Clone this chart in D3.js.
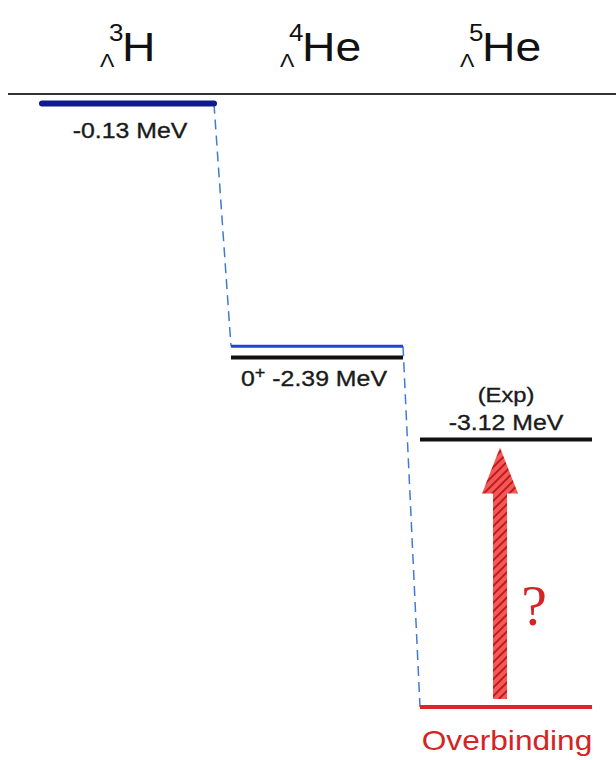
<!DOCTYPE html>
<html>
<head>
<meta charset="utf-8">
<script src="https://cdn.jsdelivr.net/npm/d3@7"></script>
<style>
  body { margin: 0; background: #fff; }
  svg { display: block; font-family: "Liberation Sans", Arial, sans-serif; }
</style>
</head>
<body>
<svg width="616" height="760"></svg>
<script>
// hypernuclei, Lambda separation energies (MeV)
const massNumbers = [3, 4, 5]
const elements = ["H", "He", "He"]
const calcEnergies = [-0.13, -2.29, -5.50]   // calculated levels (dashed connection)
const expEnergies = [null, -2.39, -3.12]     // experimental levels
const levelLabels = ["-0.13 MeV", "-2.39 MeV", "-3.12 MeV"]

const svg = d3.select("svg")

const y = d3.scaleLinear().domain([0, -5.5]).range([89, 707]),
      x = d3.scaleLinear().domain([0, 2]).range([42, 420]),
      titleX = d3.scaleLinear().domain([0, 2]).range([100, 460]),
      levelWidth = 172,
      stretch = 1.13,
      calcColors = ["#0f1a8c", "#2542d8", "#e02424"],
      calcWidths = [6, 3, 4],
      red = "#d42424"

// the original figure is a bit wider than tall, so text gets stretched horizontally
function label(parent, px, py, anchor) {
  return parent.append("g")
    .attr("transform", "translate(" + px + "," + py + ") scale(" + stretch + ",1)")
    .append("text")
      .attr("text-anchor", anchor || "start")
}

// hatch pattern for the arrow
const defs = svg.append("defs")
const pat = defs.append("pattern")
  .attr("id", "hatch")
  .attr("patternUnits", "userSpaceOnUse")
  .attr("width", 6).attr("height", 6)
  .attr("patternTransform", "rotate(-45)")
pat.append("rect").attr("width", 6).attr("height", 6).attr("fill", "#f25a5a")
pat.append("line").attr("x1", 0).attr("x2", 6).attr("y1", 1).attr("y2", 1)
  .attr("stroke", "#c41a1a").attr("stroke-width", 2)

// titles
massNumbers.forEach(function (a, i) {
  const x0 = titleX(i)
  label(svg, x0, 67).text("Λ").style("font-size", "19px").style("fill", "#111")
  label(svg, x0 + 9, 41).text(a).style("font-size", "23px").style("fill", "#111")
  label(svg, x0 + 22, 61).text(elements[i]).style("font-size", "41px").style("fill", "#111")
})

// separator line
svg.append("line").attr("x1", 8).attr("x2", 616).attr("y1", 94).attr("y2", 94)
  .style("stroke", "#333").style("stroke-width", 2)

// dashed connections between calculated levels
for (let i = 0; i < calcEnergies.length - 1; i++) {
  svg.append("line")
    .attr("x1", x(i) + levelWidth).attr("y1", y(calcEnergies[i]))
    .attr("x2", x(i + 1)).attr("y2", y(calcEnergies[i + 1]))
    .style("stroke", "#3f7bd6").style("stroke-width", 1.5)
    .style("stroke-dasharray", "10,6")
}

// arrow from overbinding up to experiment
const ax = x(2) + 80,
      yTip = y(expEnergies[2]) + 8,
      yBase = y(calcEnergies[2]) - 8,
      headH = 46, headW = 18, shaftW = 7
svg.append("path")
  .attr("d", d3.line()([
    [ax, yTip], [ax + headW, yTip + headH], [ax + shaftW, yTip + headH],
    [ax + shaftW, yBase], [ax - shaftW, yBase], [ax - shaftW, yTip + headH],
    [ax - headW, yTip + headH]
  ]) + "Z")
  .style("fill", "url(#hatch)")

// experimental levels
const expIdx = d3.range(expEnergies.length).filter(i => expEnergies[i] !== null)
svg.selectAll(".exp")
  .data(expIdx)
  .enter().append("line")
    .attr("class", "exp")
    .attr("x1", i => x(i))
    .attr("x2", i => x(i) + levelWidth)
    .attr("y1", i => y(expEnergies[i])).attr("y2", i => y(expEnergies[i]))
    .style("stroke", "#111").style("stroke-width", 4)

// calculated levels
svg.selectAll(".calc")
  .data(calcEnergies)
  .enter().append("line")
    .attr("class", "calc")
    .attr("x1", (d, i) => x(i))
    .attr("x2", (d, i) => x(i) + levelWidth)
    .attr("y1", d => y(d)).attr("y2", d => y(d))
    .style("stroke", (d, i) => calcColors[i])
    .style("stroke-width", (d, i) => calcWidths[i])
    .style("stroke-linecap", (d, i) => i === 0 ? "round" : "butt")

// level labels
const labelStyle = t => t.style("font-size", "22px").style("fill", "#1a1a1a")
  .style("stroke", "#1a1a1a").style("stroke-width", 0.35)

label(svg, x(0) + 88, y(calcEnergies[0]) + 34, "middle").text(levelLabels[0]).call(labelStyle)

const l2 = label(svg, x(1) + 10, y(expEnergies[1]) + 28).call(labelStyle)
l2.append("tspan").text("0")
l2.append("tspan").text("+").attr("dy", -8).style("font-size", "16px")
l2.append("tspan").text(" " + levelLabels[1]).attr("dy", 8)

label(svg, x(2) + 86, y(expEnergies[2]) - 38, "middle").text("(Exp)").call(labelStyle)
  .style("font-size", "21px")
label(svg, x(2) + 86, y(expEnergies[2]) - 10, "middle").text(levelLabels[2]).call(labelStyle)

label(svg, x(2) + 87, y(calcEnergies[2]) + 43, "middle").text("Overbinding")
  .style("font-size", "28px").style("fill", red)

svg.append("text").text("?")
  .attr("x", ax + 34).attr("y", y(calcEnergies[2]) - 82)
  .attr("text-anchor", "middle")
  .style("font-family", "'Liberation Serif', 'Times New Roman', serif")
  .style("font-size", "58px").style("fill", red)
</script>
</body>
</html>
